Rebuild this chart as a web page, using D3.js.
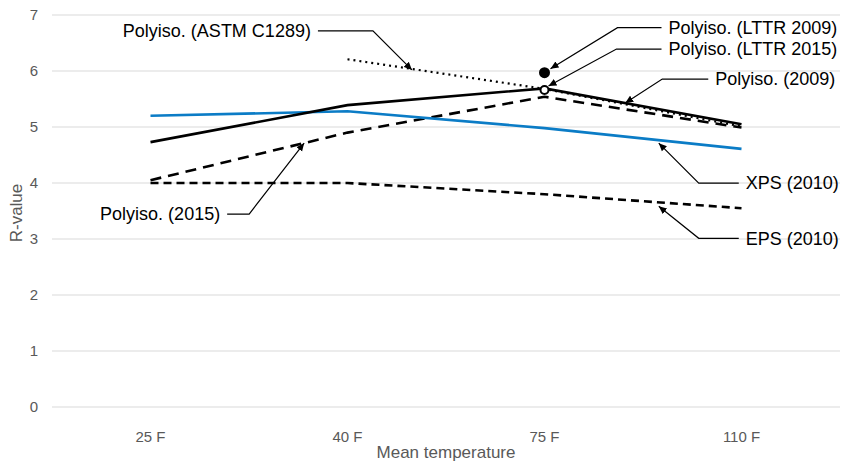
<html>
<head>
<meta charset="utf-8">
<script type="text/javascript" src="https://cdn.jsdelivr.net/npm/d3@7/dist/d3.min.js"></script>
<style>
    body { margin: 0; background: #fff; }
    text { font-family: "Liberation Sans", Arial, sans-serif; }
    .grid line { stroke: #d9d9d9; stroke-width: 1; }
    .tick text { fill: #595959; font-size: 15px; }
    .axis-title { fill: #595959; font-size: 17px; }
    .note text { fill: #000; font-size: 18px; }
    .note path { fill: none; stroke: #000; stroke-width: 1.2; }
</style>
</head>
<body>
<script>
// categories and values
var categories = ["25 F", "40 F", "75 F", "110 F"];
var yTicks = [0, 1, 2, 3, 4, 5, 6, 7];

var xps2010      = [5.20, 5.28, 4.98, 4.61];
var eps2010      = [4.00, 4.00, 3.80, 3.55];
var polyiso2009  = [4.73, 5.39, 5.69, 5.05];
var polyiso2015  = [4.05, 4.90, 5.54, 4.99];
var polyisoAstm  = [null, 6.21, 5.68, 5.01];

var lttr2009 = 5.97;   // single point at 75 F
var lttr2015 = 5.66;   // single point at 75 F

var series = [
    { name: "EPS (2010)",              values: eps2010,     color: "#000",    width: 2.6, dash: "8,5" },
    { name: "Polyiso. (2015)",         values: polyiso2015, color: "#000",    width: 2.6, dash: "11,7" },
    { name: "Polyiso. (ASTM C1289)",   values: polyisoAstm, color: "#000",    width: 2.2, dash: "2,4" },
    { name: "XPS (2010)",              values: xps2010,     color: "#0b7cc6", width: 2.6, dash: null },
    { name: "Polyiso. (2009)",         values: polyiso2009, color: "#000",    width: 2.6, dash: null }
];

var width = 849, height = 461;
var margin = { left: 52, right: 9, top: 15, bottom: 54 };

var svg = d3.select("body").append("svg")
    .attr("width", width)
    .attr("height", height);

var x = d3.scaleBand()
    .domain(categories)
    .range([margin.left, width - margin.right]);

var y = d3.scaleLinear()
    .domain([0, 7])
    .range([height - margin.bottom, margin.top]);

// index -> pixel, so a fraction between two categories can be placed
var xi = d3.scaleLinear()
    .domain([0, categories.length - 1])
    .range([x(categories[0]) + x.bandwidth() / 2, x(categories[categories.length - 1]) + x.bandwidth() / 2]);

// gridlines
svg.append("g")
    .attr("class", "grid")
    .selectAll("line")
    .data(yTicks)
    .enter().append("line")
        .attr("x1", margin.left)
        .attr("x2", width - margin.right)
        .attr("y1", function(d) { return y(d); })
        .attr("y2", function(d) { return y(d); });

// y axis
var yAxis = svg.append("g")
    .attr("transform", "translate(" + (margin.left - 14) + ",0)")
    .call(d3.axisLeft(y).tickValues(yTicks).tickFormat(d3.format("d")).tickSize(0).tickPadding(0));
yAxis.select(".domain").remove();

// x axis
var xAxis = svg.append("g")
    .attr("transform", "translate(0," + (height - margin.bottom) + ")")
    .call(d3.axisBottom(x).tickSize(0).tickPadding(24));
xAxis.select(".domain").remove();

svg.append("text")
    .attr("class", "axis-title")
    .attr("transform", "translate(22,213) rotate(-90)")
    .attr("text-anchor", "middle")
    .text("R-value");

svg.append("text")
    .attr("class", "axis-title")
    .attr("x", (margin.left + width - margin.right) / 2)
    .attr("y", 458)
    .attr("text-anchor", "middle")
    .text("Mean temperature");

// lines
var line = d3.line()
    .defined(function(d) { return d != null; })
    .x(function(d, i) { return xi(i); })
    .y(function(d) { return y(d); });

svg.append("g").selectAll("path")
    .data(series)
    .enter().append("path")
        .attr("d", function(s) { return line(s.values); })
        .attr("fill", "none")
        .attr("stroke", function(s) { return s.color; })
        .attr("stroke-width", function(s) { return s.width; })
        .attr("stroke-dasharray", function(s) { return s.dash; });

// LTTR points at 75 F
var i75 = categories.indexOf("75 F");
svg.append("circle")
    .attr("cx", xi(i75))
    .attr("cy", y(lttr2009))
    .attr("r", 5.5)
    .attr("fill", "#000");
svg.append("circle")
    .attr("cx", xi(i75))
    .attr("cy", y(lttr2015))
    .attr("r", 4)
    .attr("fill", "#fff")
    .attr("stroke", "#000")
    .attr("stroke-width", 2);

// annotations: arrow tip sits on a series (or point); label is offset from it
svg.append("defs").append("marker")
    .attr("id", "arrow")
    .attr("viewBox", "0 -5 10 10")
    .attr("refX", 10)
    .attr("refY", 0)
    .attr("markerWidth", 8)
    .attr("markerHeight", 8)
    .attr("markerUnits", "userSpaceOnUse")
    .attr("orient", "auto")
  .append("path")
    .attr("d", "M0,-4.5L10,0L0,4.5Z")
    .attr("fill", "#000");

function valueAt(vals, t)
{
    var i = Math.min(Math.floor(t), vals.length - 2);
    var f = t - i;
    return vals[i] + (vals[i + 1] - vals[i]) * f;
}

var notes = [
    { text: "Polyiso. (ASTM C1289)", tip: [xi(1.327), y(valueAt(polyisoAstm, 1.327)) + 1], elbow: [-39, -39], len: 55, side: "left" },
    { text: "Polyiso. (LTTR 2009)",  tip: [xi(i75) + 6, y(lttr2009) - 4],                  elbow: [67, -41],  len: 44, side: "right" },
    { text: "Polyiso. (LTTR 2015)",  tip: [xi(i75) + 4, y(lttr2015) - 4],                  elbow: [68, -37],  len: 45, side: "right" },
    { text: "Polyiso. (2009)",       tip: [xi(2.41), y(valueAt(polyiso2009, 2.41))],         elbow: [37, -24],  len: 46, side: "right" },
    { text: "XPS (2010)",            tip: [xi(2.58), y(valueAt(xps2010, 2.58)) + 3],         elbow: [40, 40],   len: 40, side: "right" },
    { text: "EPS (2010)",            tip: [xi(2.58), y(valueAt(eps2010, 2.58)) + 4],         elbow: [40, 32],   len: 40, side: "right" },
    { text: "Polyiso. (2015)",       tip: [xi(0.78), y(valueAt(polyiso2015, 0.78))],         elbow: [-55, 71],  len: 22, side: "left" }
];

var g = svg.append("g").attr("class", "note");
notes.forEach(function(n)
{
    var ex = n.tip[0] + n.elbow[0],
        ey = n.tip[1] + n.elbow[1];
    var dir = n.side == "right" ? 1 : -1;
    var endX = ex + dir * n.len;
    g.append("path")
        .attr("d", "M" + endX + "," + ey + "L" + ex + "," + ey + "L" + n.tip[0] + "," + n.tip[1])
        .attr("marker-end", "url(#arrow)");
    g.append("text")
        .attr("x", endX + dir * 7)
        .attr("y", ey)
        .attr("dy", "0.35em")
        .attr("text-anchor", n.side == "right" ? "start" : "end")
        .text(n.text);
});
</script>
</body>
</html>
